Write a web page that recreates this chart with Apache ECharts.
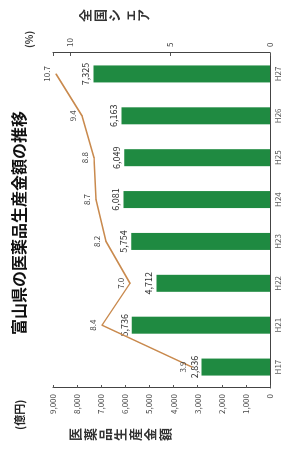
<!DOCTYPE html>
<html>
<head>
<meta charset="utf-8">
<script src="https://cdn.jsdelivr.net/npm/echarts@6/dist/echarts.min.js"></script>
<style>
html, body { margin: 0; padding: 0; width: 285px; height: 456px; overflow: hidden; background: #fff; }
/* the reference is the chart turned a quarter turn anticlockwise */
#chart { position: absolute; left: 0; top: 0; width: 456px; height: 285px; transform-origin: 0 0; transform: translateY(456px) rotate(-90deg); }
</style>
</head>
<body>
<div id="chart"></div>
<script>
const years = ['H17', 'H21', 'H22', 'H23', 'H24', 'H25', 'H26', 'H27'];
const amounts = [2836, 5736, 4712, 5754, 6081, 6049, 6163, 7325];
const shares = [3.9, 8.4, 7.0, 8.2, 8.7, 8.8, 9.4, 10.7];

const font = '"Noto Sans CJK JP", "Noto Sans", sans-serif';
const vertical = s => s.split('').join('\n');

const chart = echarts.init(document.getElementById('chart'));
chart.setOption({
  backgroundColor: '#fff',
  textStyle: { fontFamily: font },
  title: [
    { text: '富山県の医薬品生産金額の推移', left: 121, top: 11, padding: 0,
      textStyle: { fontFamily: font, fontSize: 16, fontWeight: 'bold', color: '#111' } },
    { text: '(億円)', left: 26, top: 14, padding: 0,
      textStyle: { fontFamily: font, fontSize: 11, fontWeight: 'bold', color: '#222' } },
    { text: vertical('医薬品生産金額'), left: 15, top: 68, padding: 0,
      textStyle: { fontFamily: font, fontSize: 13, fontWeight: 'bold', color: '#333', lineHeight: 15 } },
    { text: '(%)', left: 408, top: 24, padding: 0,
      textStyle: { fontFamily: font, fontSize: 10, color: '#333' } },
    { text: vertical('全国シェア'), left: 434, top: 78, padding: 0,
      textStyle: { fontFamily: font, fontSize: 13, fontWeight: 'bold', color: '#333', lineHeight: 14.5 } }
  ],
  grid: { left: 68, right: 53, top: 53, bottom: 15 },
  xAxis: {
    type: 'category',
    data: years,
    axisLine: { lineStyle: { color: '#444', width: 1 } },
    axisTick: { inside: true, length: 3, lineStyle: { color: '#666' } },
    axisLabel: { fontSize: 8, color: '#555', margin: 4 }
  },
  yAxis: [
    {
      type: 'value', min: 0, max: 9000, interval: 1000,
      axisLine: { show: true, lineStyle: { color: '#444' } },
      axisTick: { show: true, inside: true, length: 3, lineStyle: { color: '#555' } },
      splitLine: { show: false },
      axisLabel: { fontSize: 8, color: '#444', margin: 6,
        formatter: v => v.toLocaleString('en-US') }
    },
    {
      type: 'value', min: 0, max: 10.85, interval: 5,
      axisLine: { show: true, lineStyle: { color: '#444' } },
      axisTick: { show: true, inside: true, length: 3, lineStyle: { color: '#555' } },
      splitLine: { show: false },
      axisLabel: { fontSize: 8, color: '#444', margin: 6,
        formatter: v => (v % 5 === 0 ? String(v) : '') }
    }
  ],
  series: [
    {
      type: 'bar',
      data: amounts,
      barWidth: 17,
      itemStyle: { color: '#1f8a41' },
      label: { show: true, position: 'top', distance: 3, fontSize: 9, color: '#333',
        formatter: p => p.value.toLocaleString('en-US') }
    },
    {
      type: 'line',
      yAxisIndex: 1,
      data: shares,
      symbol: 'circle',
      symbolSize: 1,
      showSymbol: true,
      itemStyle: { color: '#c98a4e' },
      lineStyle: { color: '#c98a4e', width: 1.5 },
      label: { show: true, position: 'top', distance: 5, fontSize: 8, color: '#444',
        formatter: p => p.value.toFixed(1) }
    }
  ]
});
</script>
</body>
</html>
